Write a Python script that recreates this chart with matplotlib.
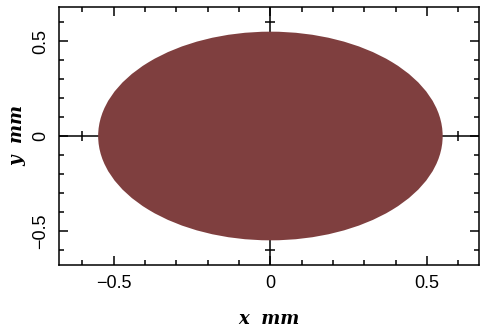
import matplotlib
matplotlib.use("Agg")
import matplotlib.pyplot as plt
from matplotlib.patches import Ellipse
import numpy as np

# Data
center = [0.0, 0.0]
semi_x = 0.55
semi_y = 0.55
x_limits = [-0.675, 0.666]
y_limits = [-0.68, 0.68]
major_ticks = [-0.5, 0.0, 0.5]
major_labels = ["\u22120.5", "0", "0.5"]
minor_ticks = [-0.6, -0.4, -0.3, -0.2, -0.1, 0.1, 0.2, 0.3, 0.4, 0.6]
fill_color = "#7f3f3f"

fig = plt.figure(figsize=(4.82, 3.27), dpi=100)
ax = fig.add_axes([59/482, (327-265)/327, (479-59)/482, (265-7)/327])

lw = 1.1
# crosshair lines at zero
ax.axhline(0, color="k", lw=lw, zorder=1)
ax.axvline(0, color="k", lw=lw, zorder=1)
# ticks on crosshair
cross = minor_ticks + [-0.5, 0.5]
ax.plot(cross, [0]*len(cross), ls="none", marker="|", ms=6.5, mew=lw, color="k", zorder=1)
ax.plot([0]*len(cross), cross, ls="none", marker="_", ms=6.5, mew=lw, color="k", zorder=1)

ell = Ellipse(center, 2*semi_x, 2*semi_y, facecolor=fill_color, edgecolor="none", zorder=3)
ax.add_patch(ell)

ax.set_xlim(*x_limits)
ax.set_ylim(*y_limits)
ax.set_xticks(major_ticks)
ax.set_xticklabels(major_labels)
ax.set_yticks(major_ticks)
ax.set_yticklabels(major_labels, rotation=90, va="center")
ax.set_xticks(minor_ticks, minor=True)
ax.set_yticks(minor_ticks, minor=True)
ax.tick_params(which="both", direction="in", top=True, right=True, width=lw, color="k")
ax.tick_params(which="major", length=6.5, labelsize=13, pad=7)
ax.tick_params(which="minor", length=3.6)
for lab in ax.get_xticklabels() + ax.get_yticklabels():
    lab.set_family("Liberation Sans")
for s in ax.spines.values():
    s.set_linewidth(lw)

lab_font = dict(family="DejaVu Serif", style="italic", weight="bold", size=13)
ax.set_xlabel("x  mm", fontdict=lab_font, labelpad=13)
ax.set_ylabel("y  mm", fontdict=lab_font, labelpad=4)

fig.savefig("out.png", dpi=100)
